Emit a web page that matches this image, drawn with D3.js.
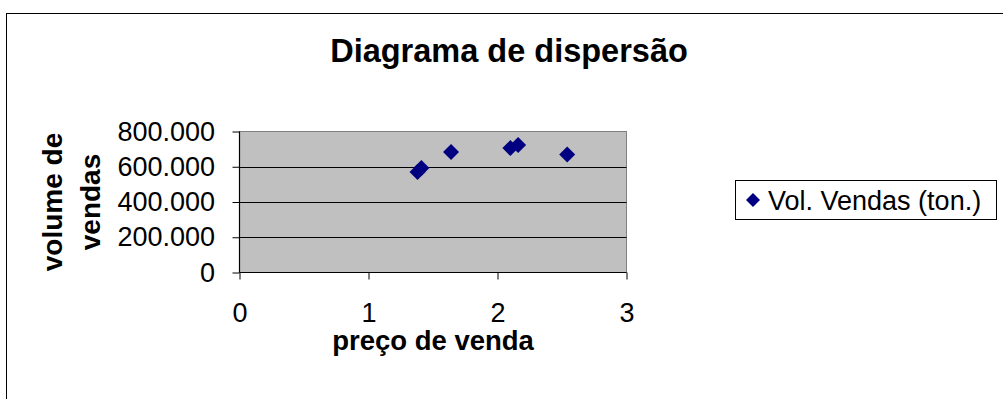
<!DOCTYPE html>
<html><head><meta charset="utf-8">
<script src="https://cdn.jsdelivr.net/npm/d3@7"></script>
<style>html,body{margin:0;padding:0;background:#fff;overflow:hidden}svg{display:block;font-family:"Liberation Sans",Arial,sans-serif}</style>
</head><body>
<svg id="c" width="1003" height="399"></svg>
<script>
const titleText = "Diagrama de dispersão";
const xTitle = "preço de venda";
const yTitleLines = ["volume de", "vendas"];
const seriesName = "Vol. Vendas (ton.)";
const precos = [1.38, 1.41, 1.64, 2.10, 2.16, 2.54];
const volumes = [570000, 593000, 683000, 706000, 723000, 670000];
const xTicks = [0, 1, 2, 3];
const yTicks = [0, 200000, 400000, 600000, 800000];

const svg = d3.select("#c");
const locale = d3.formatLocale({decimal: ",", thousands: ".", grouping: [3], currency: ["R$", ""]});
const fmt = locale.format(",d");

const L = 239.5, R = 626.5, T = 131.5, B = 272.5;
const x = d3.scaleLinear().domain([0, 3]).range([L, R]);
const y = d3.scaleLinear().domain([0, 800000]).range([B, T]);

// outer border
svg.append("rect").attr("x", 6.5).attr("y", 13.5).attr("width", 1200).attr("height", 600)
  .attr("fill", "#fff").attr("stroke", "#000").attr("stroke-width", 1);

// title
svg.append("text").attr("x", 509).attr("y", 62).attr("text-anchor", "middle")
  .attr("font-size", 32.5).attr("font-weight", "bold").text(titleText);

// plot area
svg.append("rect").attr("x", L).attr("y", T).attr("width", R - L).attr("height", B - T)
  .attr("fill", "#C0C0C0").attr("stroke", "#808080").attr("stroke-width", 1);

// gridlines
svg.append("g").selectAll("line").data(yTicks.filter(d => d > 0 && d < 800000)).join("line")
  .attr("x1", L).attr("x2", R).attr("y1", d => Math.round(y(d)) + 0.5).attr("y2", d => Math.round(y(d)) + 0.5)
  .attr("stroke", "#000").attr("stroke-width", 1);

// axes
const yAxis = svg.append("g").attr("transform", `translate(${L},0)`)
  .call(d3.axisLeft(y).tickValues(yTicks).tickFormat(fmt).tickSize(7).tickPadding(17.5));
const xAxis = svg.append("g").attr("transform", `translate(0,${B})`)
  .call(d3.axisBottom(x).tickValues(xTicks).tickFormat(d3.format("d")).tickSize(7).tickPadding(23));
[yAxis, xAxis].forEach(a => {
  a.select(".domain").attr("stroke", "#000").attr("stroke-width", 1.2);
  a.selectAll(".tick line").attr("stroke", "#000");
  a.selectAll("text").attr("font-size", 27).attr("fill", "#000")
    .attr("font-family", "'Liberation Sans', Arial, sans-serif");
});
xAxis.select(".domain").attr("d", `M${L},0H${R}`);
yAxis.select(".domain").attr("d", `M0,${B}V${T}`);

// markers
const diamond = s => `M0,${-s}L${s},0L0,${s}L${-s},0Z`;
svg.append("g").selectAll("path").data(precos.map((p, i) => [p, volumes[i]])).join("path")
  .attr("transform", d => `translate(${x(d[0])},${y(d[1])})`)
  .attr("d", diamond(8)).attr("fill", "#000080");

// axis titles
svg.append("text").attr("x", 433).attr("y", 350).attr("text-anchor", "middle")
  .attr("font-size", 27.5).attr("font-weight", "bold").text(xTitle);
const yt = svg.append("text").attr("transform", "translate(62,202) rotate(-90)")
  .attr("text-anchor", "middle").attr("font-size", 28).attr("font-weight", "bold");
yTitleLines.forEach((t, i) => {
  yt.append("tspan").attr("x", 0).attr("y", i * 37.5).text(t);
});

// legend
const lg = svg.append("g");
lg.append("rect").attr("x", 735.5).attr("y", 180.5).attr("width", 261).attr("height", 39)
  .attr("fill", "#fff").attr("stroke", "#000").attr("stroke-width", 1);
lg.append("path").attr("transform", "translate(753,200)").attr("d", diamond(7)).attr("fill", "#000080");
lg.append("text").attr("x", 768).attr("y", 209.5).attr("font-size", 27).text(seriesName);
</script>
</body></html>
